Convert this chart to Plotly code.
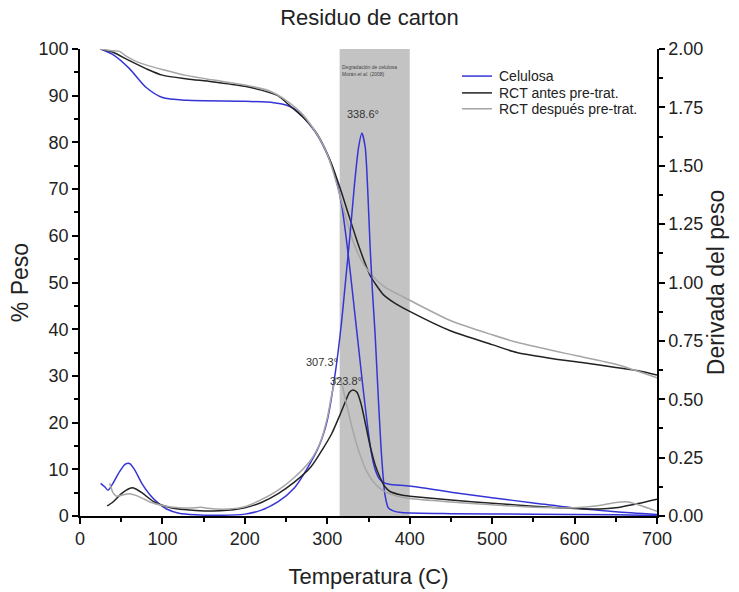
import plotly.graph_objects as go

# ---------------- data ----------------
# TG curves (% Peso, left axis)
tg_cel_x = [25, 40, 60, 80, 100, 130, 200, 235, 250, 260, 270, 285, 295, 305, 312, 318, 323, 328, 333, 338, 343, 348, 353, 358, 363, 368, 375, 400, 450, 500, 550, 600, 650, 700]
tg_cel_y = [100, 98.8, 95.8, 91.8, 89.6, 89.0, 88.8, 88.5, 88.0, 87.2, 85.6, 82.3, 79.3, 75.2, 71.2, 66.0, 59.5, 52.0, 44.0, 36.0, 28.0, 20.5, 14.0, 10.0, 8.0, 7.2, 6.8, 6.4, 5.1, 3.9, 2.8, 1.7, 0.9, 0.3]

tg_antes_x = [25, 40, 60, 80, 100, 130, 160, 200, 220, 240, 255, 270, 285, 295, 305, 315, 325, 335, 345, 352, 358, 368, 380, 400, 450, 500, 530, 570, 611, 650, 680, 700]
tg_antes_y = [100, 99.3, 97.5, 95.8, 94.4, 93.6, 93.0, 92.0, 91.2, 90.0, 87.8, 85.5, 82.5, 79.5, 75.5, 70.5, 65.0, 59.5, 54.5, 51.5, 49.8, 47.4, 45.8, 43.8, 39.6, 36.7, 35.0, 33.8, 32.8, 31.8, 31.0, 30.2]

tg_despues_x = [25, 40, 48, 55, 70, 100, 130, 160, 200, 230, 250, 270, 290, 300, 310, 320, 330, 340, 350, 360, 370, 400, 450, 500, 530, 600, 650, 700]
tg_despues_y = [100, 99.6, 99.5, 98.6, 97.2, 95.6, 94.3, 93.4, 92.3, 91.0, 89.0, 86.0, 81.0, 77.5, 72.0, 65.5, 59.5, 55.2, 52.4, 50.5, 49.0, 46.2, 41.8, 38.8, 37.2, 34.4, 32.5, 29.6]

# DTG curves (Derivada del peso, right axis)
dtg_cel_x = [25, 30, 34, 40, 48, 55, 60, 66, 75, 85, 95, 105, 120, 140, 170, 200, 220, 240, 260, 275, 290, 300, 310, 317, 322, 328, 333, 338, 342, 346, 349, 352, 355, 358, 362, 366, 370, 374, 380, 390, 450, 550, 650, 700]
dtg_cel_y = [0.14, 0.125, 0.11, 0.14, 0.19, 0.222, 0.225, 0.20, 0.14, 0.09, 0.055, 0.03, 0.012, 0.005, 0.003, 0.008, 0.025, 0.06, 0.12, 0.2, 0.3, 0.41, 0.62, 0.82, 1.0, 1.22, 1.42, 1.58, 1.64, 1.58, 1.40, 1.15, 0.95, 0.78, 0.50, 0.25, 0.09, 0.035, 0.022, 0.015, 0.01, 0.008, 0.005, 0.002]

dtg_antes_x = [33, 40, 50, 60, 65, 75, 90, 110, 140, 170, 200, 220, 240, 260, 280, 295, 305, 315, 322, 327, 331, 336, 341, 346, 352, 358, 364, 370, 376, 390, 400, 450, 500, 550, 600, 630, 650, 670, 700]
dtg_antes_y = [0.043, 0.06, 0.095, 0.118, 0.12, 0.10, 0.06, 0.035, 0.024, 0.022, 0.035, 0.058, 0.095, 0.145, 0.21, 0.29, 0.35, 0.43, 0.49, 0.53, 0.54, 0.53, 0.48, 0.40, 0.30, 0.22, 0.165, 0.125, 0.105, 0.09, 0.085, 0.068, 0.055, 0.042, 0.032, 0.030, 0.035, 0.048, 0.072]

dtg_despues_x = [36, 40, 44, 52, 60, 70, 85, 100, 120, 140, 147, 155, 180, 200, 220, 240, 260, 280, 292, 300, 306, 311, 316, 322, 330, 338, 348, 360, 372, 385, 400, 450, 500, 550, 600, 630, 650, 665, 680, 700]
dtg_despues_y = [0.14, 0.10, 0.085, 0.09, 0.095, 0.085, 0.06, 0.045, 0.035, 0.035, 0.038, 0.033, 0.03, 0.04, 0.07, 0.11, 0.165, 0.24, 0.32, 0.42, 0.53, 0.59, 0.58, 0.50, 0.38, 0.28, 0.19, 0.13, 0.10, 0.085, 0.075, 0.06, 0.048, 0.038, 0.035, 0.045, 0.058, 0.06, 0.045, 0.02]

series_names = ["Celulosa", "RCT antes pre-trat.", "RCT después pre-trat."]
peak_labels = ["338.6°", "307.3°", "323.8°"]
peak_label_x = [343, 294, 323]
peak_label_y = [1.72, 0.66, 0.58]
region_x = [315, 400]
region_text = "Degradación de celulosa<br>Morán <i>et al.</i> (2008)"

# ---------------- styles ----------------
FONT = "Arial, Liberation Sans, sans-serif"
TXT = "#222222"
c_blue = "#3535d6"
c_black = "#222222"
c_gray = "#a6a6a6"
colors = [c_blue, c_black, c_gray]

fig = go.Figure()

tg = [(tg_cel_x, tg_cel_y), (tg_antes_x, tg_antes_y), (tg_despues_x, tg_despues_y)]
dtg = [(dtg_cel_x, dtg_cel_y), (dtg_antes_x, dtg_antes_y), (dtg_despues_x, dtg_despues_y)]

for (x, y), c, name in zip(tg, colors, series_names):
    fig.add_trace(go.Scatter(x=x, y=y, mode="lines", name=name, legendgroup=name, showlegend=False,
                             line=dict(color=c, width=1.5, shape="spline", smoothing=0.7),
                             xaxis="x", yaxis="y"))
for (x, y), c, name in zip(dtg, colors, series_names):
    fig.add_trace(go.Scatter(x=x, y=y, mode="lines", name=name, legendgroup=name, showlegend=False,
                             line=dict(color=c, width=1.5, shape="spline", smoothing=0.7),
                             xaxis="x", yaxis="y2"))

# shaded region
fig.add_shape(type="rect", xref="x", yref="paper", x0=region_x[0], x1=region_x[1], y0=0, y1=1,
              fillcolor="#c3c3c3", line=dict(width=0), layer="below")
fig.add_annotation(xref="x", yref="paper", x=region_x[0] + 1, y=0.972, text=region_text,
                   showarrow=False, xanchor="left", yanchor="top", align="left",
                   font=dict(family=FONT, size=5, color="#444444"))

for t, px, py in zip(peak_labels, peak_label_x, peak_label_y):
    fig.add_annotation(xref="x", yref="y2", x=px, y=py, text=t, showarrow=False,
                       font=dict(family=FONT, size=11, color="#333333"))

# legend (drawn as line samples + text, compact row spacing as in the reference)
leg_x0, leg_x1, leg_tx = 0.662, 0.714, 0.723
leg_rows = [0.942, 0.906, 0.872]
for name, c, ly in zip(series_names, colors, leg_rows):
    fig.add_shape(type="line", xref="paper", yref="paper", x0=leg_x0, x1=leg_x1, y0=ly, y1=ly,
                  line=dict(color=c, width=1.5))
    fig.add_annotation(xref="paper", yref="paper", x=leg_tx, y=ly, text=name, showarrow=False,
                       xanchor="left", yanchor="middle", font=dict(family=FONT, size=14, color=TXT))

axis_common = dict(showline=True, linecolor="black", linewidth=1.5, ticks="outside",
                   tickcolor="black", tickwidth=1.5, showgrid=False, zeroline=False,
                   tickfont=dict(family=FONT, size=18, color=TXT))

fig.update_layout(
    width=739, height=592,
    margin=dict(l=80, r=82, t=49, b=76),
    paper_bgcolor="white", plot_bgcolor="white",
    showlegend=False,
    title=dict(text="Residuo de carton", x=0.5, xanchor="center", y=0.971, yanchor="middle",
               font=dict(family=FONT, size=22, color=TXT)),
    xaxis=dict(range=[0, 700], dtick=100, tick0=0, ticklen=6, automargin=False,
               minor=dict(dtick=50, ticks="outside", ticklen=4, tickcolor="black", tickwidth=1.5),
               title=dict(text="Temperatura (C)", font=dict(family=FONT, size=22, color=TXT), standoff=20),
               **axis_common),
    xaxis2=dict(range=[0, 700], overlaying="x", side="top", tickmode="array",
                tickvals=region_x, ticktext=[str(v) for v in region_x], ticklen=4,
                showline=True, linecolor="black", linewidth=1.5, ticks="outside",
                tickcolor="black", tickwidth=1.5, showgrid=False, zeroline=False,
                minor=dict(tickmode="linear", tick0=0, dtick=50, ticks="inside", ticklen=5,
                           tickcolor="black", tickwidth=1.5),
                tickfont=dict(family=FONT, size=10, color="#333333")),
    yaxis=dict(range=[0, 100], dtick=10, ticklen=6,
               minor=dict(dtick=5, ticks="outside", ticklen=4, tickcolor="black", tickwidth=1.5),
               title=dict(text="% Peso", font=dict(family=FONT, size=23, color=TXT), standoff=4),
               **axis_common),
    yaxis2=dict(range=[0, 2], dtick=0.25, tickformat=".2f", overlaying="y", side="right", ticklen=6,
                minor=dict(dtick=0.125, ticks="outside", ticklen=4, tickcolor="black", tickwidth=1.5),
                title=dict(text="Derivada del peso", font=dict(family=FONT, size=23, color=TXT), standoff=4),
                **axis_common),
)

fig.write_html("out.html")
